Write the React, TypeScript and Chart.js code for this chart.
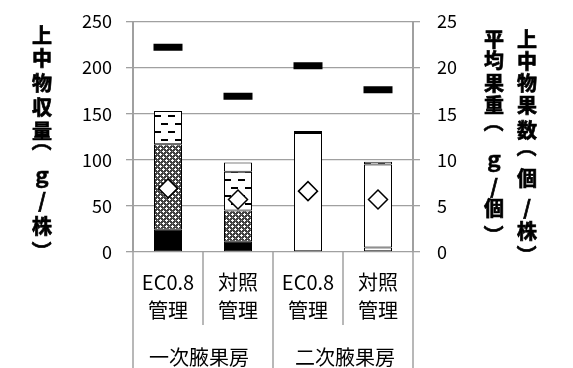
import React, { useEffect, useRef } from 'react';
import { Chart, registerables } from 'chart.js';

Chart.register(...registerables);

// ---- data ----
const categories: string[][] = [
  ['EC0.8', '管理'],
  ['対照', '管理'],
  ['EC0.8', '管理'],
  ['対照', '管理'],
];
const groupLabels = ['一次腋果房', '二次腋果房'];

// 上中物収量 (g/株) stacked segments, bottom to top
const segBlack = [24, 11, 0, 0];
const segCross = [93, 34, 0, 0];
const segDash = [36, 42, 0, 5];
const segWhite = [0, 10, 129, 90];
const segDashTop = [0, 0, 2.2, 2.8];

// right axis
const avgWeight = [22.2, 16.9, 20.2, 17.6]; // 平均果重 (g/個)
const fruitCount = [6.9, 5.7, 6.6, 5.7]; // 上中物果数 (個/株)

const leftTitle = '上中物収量（ｇ/株）';
const rightTitle1 = '平均果重（ｇ/個）';
const rightTitle2 = '上中物果数（個/株）';
// vertical placement of each stacked title character (layout only)
const leftTitleY = [35, 58, 83, 107, 131, 149, 175, 200, 226, 243];
const rightTitle1Y = [39.5, 60, 83, 105, 130, 159, 186, 208, 227];
const rightTitle2Y = [39.5, 61.5, 83, 105, 130, 155, 178, 207, 231, 247];

const FONT = '"Noto Sans CJK JP", "Noto Sans", sans-serif';
const GRID = '#a0a0a0';

function dashPattern(ctx: CanvasRenderingContext2D) {
  const c = document.createElement('canvas');
  c.width = 14;
  c.height = 16;
  const g = c.getContext('2d')!;
  g.fillStyle = '#fff';
  g.fillRect(0, 0, 14, 16);
  g.fillStyle = '#000';
  g.fillRect(0, 3, 7, 2);
  g.fillRect(7, 11, 7, 2);
  return ctx.createPattern(c, 'repeat')!;
}

function crossPattern(ctx: CanvasRenderingContext2D) {
  const c = document.createElement('canvas');
  c.width = 6;
  c.height = 6;
  const g = c.getContext('2d')!;
  g.fillStyle = '#404040';
  g.fillRect(0, 0, 6, 6);
  g.fillStyle = '#ffffff';
  const plus = (cx: number, cy: number) => {
    g.fillRect(cx, cy, 1, 1);
    g.fillRect(cx - 1, cy, 1, 1);
    g.fillRect(cx + 1, cy, 1, 1);
    g.fillRect(cx, cy - 1, 1, 1);
    g.fillRect(cx, cy + 1, 1, 1);
  };
  plus(1, 1);
  plus(4, 4);
  g.fillStyle = '#8a8a8a';
  g.fillRect(4, 1, 1, 1);
  g.fillRect(1, 4, 1, 1);
  return ctx.createPattern(c, 'repeat')!;
}

const decorPlugin = {
  id: 'decor',
  afterDraw(chart: any) {
    const { ctx, chartArea, scales } = chart;
    const x = scales.x;
    const H = chart.height;
    ctx.save();
    // category separators
    ctx.strokeStyle = GRID;
    ctx.lineWidth = 1.5;
    const px = categories.map((_, i) => x.getPixelForValue(i));
    const lines: [number, number][] = [
      [chartArea.left, H],
      [(px[0] + px[1]) / 2, 325],
      [(px[1] + px[2]) / 2, H],
      [(px[2] + px[3]) / 2, 325],
      [chartArea.right, H],
    ];
    lines.forEach(([lx, ly]) => {
      ctx.beginPath();
      ctx.moveTo(lx, chartArea.bottom);
      ctx.lineTo(lx, ly);
      ctx.stroke();
    });
    // group labels
    ctx.fillStyle = '#000';
    ctx.font = `20px ${FONT}`;
    ctx.textAlign = 'center';
    ctx.textBaseline = 'middle';
    ctx.fillText(groupLabels[0], (px[0] + px[1]) / 2 - 4, 357);
    ctx.fillText(groupLabels[1], (px[2] + px[3]) / 2 + 2, 357);
    // vertical titles (stacked characters, parentheses turned)
    ctx.font = `bold 20px ${FONT}`;
    ctx.strokeStyle = '#000';
    ctx.lineWidth = 0.7;
    const vtext = (s: string, cx: number, ys: number[]) => {
      Array.from(s).forEach((ch, i) => {
        const cy = ys[i];
        if (ch === '（' || ch === '）') {
          ctx.save();
          ctx.translate(cx, cy + (ch === '（' ? -8 : 8));
          ctx.rotate(Math.PI / 2);
          ctx.fillText(ch, 0, 0);
          ctx.strokeText(ch, 0, 0);
          ctx.restore();
        } else {
          ctx.fillText(ch, cx, cy);
          ctx.strokeText(ch, cx, cy);
        }
      });
    };
    vtext(leftTitle, 42, leftTitleY);
    vtext(rightTitle1, 494, rightTitle1Y);
    vtext(rightTitle2, 527, rightTitle2Y);
    ctx.restore();
  },
};

export default function App() {
  const ref = useRef<HTMLCanvasElement>(null);
  useEffect(() => {
    document.body.style.margin = '0';
    const canvas = ref.current!;
    const ctx = canvas.getContext('2d')!;
    const pDash = dashPattern(ctx);
    const pCross = crossPattern(ctx);
    const barCommon = {
      type: 'bar' as const,
      yAxisID: 'y',
      stack: 's',
      borderColor: '#000',
      borderWidth: 1,
      borderSkipped: false as const,
      categoryPercentage: 0.8,
      barPercentage: 0.5,
      order: 2,
    };
    const chart = new Chart(ctx, {
      type: 'bar',
      data: {
        labels: categories,
        datasets: [
          { ...barCommon, label: 'A', data: segBlack, backgroundColor: '#000' },
          { ...barCommon, label: 'B', data: segCross, backgroundColor: pCross },
          { ...barCommon, label: 'C', data: segDash, backgroundColor: pDash },
          { ...barCommon, label: 'D', data: segWhite, backgroundColor: '#fff' },
          { ...barCommon, label: 'E', data: segDashTop, backgroundColor: pDash },
          {
            type: 'line',
            label: '平均果重',
            data: avgWeight,
            yAxisID: 'y2',
            showLine: false,
            pointStyle: 'line',
            pointRadius: 14.5,
            pointBorderWidth: 7,
            pointBorderColor: '#000',
            borderColor: '#000',
            order: 0,
          } as any,
          {
            type: 'line',
            label: '上中物果数',
            data: fruitCount,
            yAxisID: 'y2',
            showLine: false,
            pointStyle: 'rectRot',
            pointRadius: 9.5,
            pointBorderWidth: 1.5,
            pointBackgroundColor: '#fff',
            pointBorderColor: '#000',
            order: 0,
          } as any,
        ],
      },
      options: {
        animation: false,
        responsive: false,
        events: [],
        layout: { padding: { top: 19.5, left: 0, right: 0, bottom: 0 } },
        plugins: { legend: { display: false }, tooltip: { enabled: false } },
        scales: {
          x: {
            stacked: true,
            grid: { display: false, drawTicks: false },
            border: { display: false },
            ticks: {
              color: '#000',
              font: { family: FONT, size: 20, lineHeight: 1.4 },
              padding: 16,
              maxRotation: 0,
              autoSkip: false,
            },
            afterFit: (s: any) => {
              s.height = 116;
            },
          },
          y: {
            stacked: true,
            min: 0,
            max: 250,
            ticks: { stepSize: 50, color: '#000', font: { family: FONT, size: 18 }, padding: 14 },
            grid: { color: GRID, lineWidth: 1.3, tickLength: 7 },
            border: { color: GRID, width: 2 },
            afterFit: (s: any) => {
              s.width = 133;
              s.paddingTop = 0;
              s.paddingBottom = 0;
            },
          },
          y2: {
            position: 'right',
            min: 0,
            max: 25,
            ticks: { stepSize: 5, color: '#000', font: { family: FONT, size: 18 }, padding: 17 },
            grid: { drawOnChartArea: false, color: GRID, lineWidth: 1.3, tickLength: 7 },
            border: { color: GRID, width: 2 },
            afterFit: (s: any) => {
              s.width = 160;
              s.paddingTop = 0;
              s.paddingBottom = 0;
            },
          },
        },
      },
      plugins: [decorPlugin],
    });
    return () => chart.destroy();
  }, []);
  return (
    <div style={{ width: 573, height: 368 }}>
      <canvas ref={ref} width={573} height={368} style={{ display: 'block' }} />
    </div>
  );
}
